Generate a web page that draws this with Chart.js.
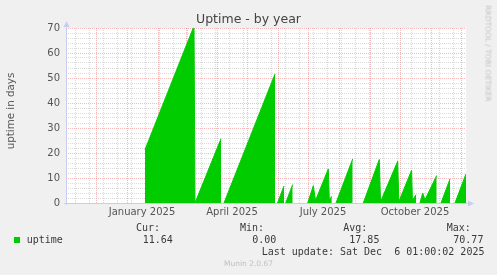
<!DOCTYPE html>
<html><head><meta charset="utf-8">
<script src="https://cdn.jsdelivr.net/npm/chart.js@4"></script>
<style>
html,body{margin:0;padding:0;background:#f0f0f0;}
#wrap{position:relative;width:497px;height:275px;overflow:hidden;background:#f0f0f0;}
#c{position:absolute;left:0;top:0;}
.t{position:absolute;white-space:pre;font-family:"DejaVu Sans",sans-serif;}
.m{position:absolute;white-space:pre;font-family:"DejaVu Sans Mono",monospace;font-size:10px;line-height:10px;color:#3a3a3a;}
</style></head><body>
<div id="wrap">
<canvas id="c" width="497" height="275"></canvas>
<div class="t" style="left:0;top:13.2px;width:497px;text-align:center;font-size:12.5px;line-height:12.5px;color:#444;">Uptime - by year</div>
<div class="t" style="left:-50px;top:104.5px;width:120px;height:12px;text-align:center;font-size:10.3px;line-height:12px;color:#555;transform:rotate(-90deg);">uptime in days</div>
<div class="t" style="left:433px;top:48.9px;width:110px;height:9px;text-align:center;font-size:7.5px;line-height:9px;color:#c4c4c4;transform:rotate(90deg);">RRDTOOL / TOBI OETIKER</div>
<div class="m" style="left:136px;top:222.5px;">Cur:</div>
<div class="m" style="left:240px;top:222.5px;">Min:</div>
<div class="m" style="left:343.3px;top:222.5px;">Avg:</div>
<div class="m" style="left:446.7px;top:222.5px;">Max:</div>
<div style="position:absolute;left:14px;top:237px;width:6px;height:6px;background:#00cc00;"></div>
<div class="m" id="lgName" style="left:26.7px;top:234.5px;"></div>
<div class="m" id="vCur" style="left:142.7px;top:234.5px;"></div>
<div class="m" id="vMin" style="left:252.3px;top:234.5px;"></div>
<div class="m" id="vAvg" style="left:349.3px;top:234.5px;"></div>
<div class="m" id="vMax" style="left:453.3px;top:234.5px;"></div>
<div class="m" style="left:261.7px;top:246.5px;">Last update: Sat Dec  6 01:00:02 2025</div>
<div class="t" style="left:0;top:260.4px;width:497px;text-align:center;font-size:7.5px;line-height:7.5px;color:#c0c0c0;">Munin 2.0.67</div>
</div>
<script>
// ---- data (x = days since 2024-11-01, the left edge of the 400-day window) ----
const seriesName = 'uptime';
const dayOffsets = [
  79, 128, 129, 155, 156.5,
  158, 209, 210,
  211.5, 218, 218.8,
  219.7, 226.7, 234,
  241.7, 247.3, 249.5, 262.3, 263.3, 265.8, 268,
  270, 286.7, 292,
  297.3, 313.3, 314.5, 331.7, 332.8, 345.6, 346.4, 350, 352,
  354, 356.7, 359, 370.7, 373,
  375, 384, 386.5,
  389, 400
];
const uptimeDays = [
  21.3, 70.77, 0, 25.7, null,
  0, 51.6, null,
  0, 6.8, null,
  0, 7.4, null,
  0, 6.9, 1.0, 13.6, 1.2, 2.7, null,
  0, 17.6, null,
  0, 17.4, 0.5, 16.7, 0.5, 13.1, 1.0, 3.3, null,
  0, 4.0, 1.3, 11.0, null,
  0, 9.6, null,
  0, 11.64
];
const summary = { cur: '11.64', min: '0.00', avg: '17.85', max: '70.77' };
const monthStartDays = [30, 61, 92, 120, 151, 181, 212, 242, 273, 304, 334, 365, 395];
const quarterLabels = { 61: 'January 2025', 151: 'April 2025', 242: 'July 2025', 334: 'October 2025' };
const minorGridDays = [9, 23, 37, 51, 65, 79, 93, 107, 121, 135, 149, 163, 177, 191, 205, 219, 233, 247, 261, 275, 289, 303, 317, 331, 345, 359, 373, 387];
const windowDays = [0, 400];
const yRange = [0, 70];

document.getElementById('lgName').textContent = seriesName;
document.getElementById('vCur').textContent = summary.cur;
document.getElementById('vMin').textContent = summary.min;
document.getElementById('vAvg').textContent = summary.avg;
document.getElementById('vMax').textContent = summary.max;

const MAJOR = 'rgba(225,90,90,0.42)';
const MINOR = 'rgba(140,140,140,0.32)';
const AXIS = '#c9cdf3';
const monthSet = new Set(monthStartDays);

const plotDecor = {
  id: 'plotDecor',
  beforeDraw(chart) {
    const {ctx, chartArea: a} = chart;
    ctx.save();
    ctx.fillStyle = '#ffffff';
    ctx.fillRect(a.left, a.top, a.right - a.left, a.bottom - a.top);
    ctx.restore();
  },
  afterDraw(chart) {
    const {ctx, chartArea: a} = chart;
    ctx.save();
    ctx.strokeStyle = AXIS; ctx.fillStyle = AXIS; ctx.lineWidth = 1;
    ctx.beginPath();
    ctx.moveTo(a.left + 0.5, a.bottom + 2); ctx.lineTo(a.left + 0.5, a.top - 2);
    ctx.moveTo(a.left - 2, a.bottom + 0.5); ctx.lineTo(a.right + 3, a.bottom + 0.5);
    ctx.stroke();
    ctx.beginPath();
    ctx.moveTo(a.left + 0.5, a.top - 7); ctx.lineTo(a.left - 2.5, a.top - 1); ctx.lineTo(a.left + 3.5, a.top - 1);
    ctx.closePath(); ctx.fill();
    ctx.beginPath();
    ctx.moveTo(a.right + 8, a.bottom + 0.5); ctx.lineTo(a.right + 2, a.bottom - 2.5); ctx.lineTo(a.right + 2, a.bottom + 3.5);
    ctx.closePath(); ctx.fill();
    ctx.restore();
  }
};

new Chart(document.getElementById('c'), {
  type: 'line',
  data: {
    datasets: [{
      label: seriesName,
      data: dayOffsets.map((d, i) => ({ x: d, y: uptimeDays[i] })),
      fill: 'origin',
      backgroundColor: '#00cc00',
      borderColor: '#00cc00',
      borderWidth: 1,
      pointRadius: 0,
      tension: 0,
      spanGaps: false
    }]
  },
  options: {
    responsive: false,
    animation: false,
    devicePixelRatio: 1,
    layout: { padding: { left: 0, right: 31, top: 28, bottom: 0 } },
    plugins: { legend: { display: false }, title: { display: false }, tooltip: { enabled: false } },
    scales: {
      x: {
        type: 'linear',
        min: windowDays[0],
        max: windowDays[1],
        afterBuildTicks(axis) {
          const vals = monthStartDays.concat(minorGridDays).sort((a, b) => a - b);
          axis.ticks = vals.map(v => ({ value: v }));
        },
        afterFit(axis) { axis.height = 72; },
        grid: {
          drawTicks: false,
          lineWidth: 1,
          color: (c) => (c.tick && monthSet.has(c.tick.value)) ? MAJOR : MINOR
        },
        border: { display: false, dash: [1, 1] },
        ticks: {
          autoSkip: false,
          maxRotation: 0,
          minRotation: 0,
          padding: 3,
          labelOffset: 15,
          color: '#555',
          font: { family: 'DejaVu Sans', size: 10 },
          callback: (v) => quarterLabels[v] || ''
        }
      },
      y: {
        min: yRange[0],
        max: yRange[1],
        afterFit(axis) { axis.width = 66; },
        grid: {
          drawTicks: false,
          lineWidth: 1,
          color: (c) => (c.tick && c.tick.value % 10 === 0) ? MAJOR : MINOR
        },
        border: { display: false, dash: [1, 1] },
        ticks: {
          stepSize: 2,
          autoSkip: false,
          padding: 6,
          color: '#555',
          font: { family: 'DejaVu Sans', size: 10 },
          callback: (v) => (v % 10 === 0 ? String(v) : '')
        }
      }
    }
  },
  plugins: [plotDecor]
});
</script>
</body></html>
